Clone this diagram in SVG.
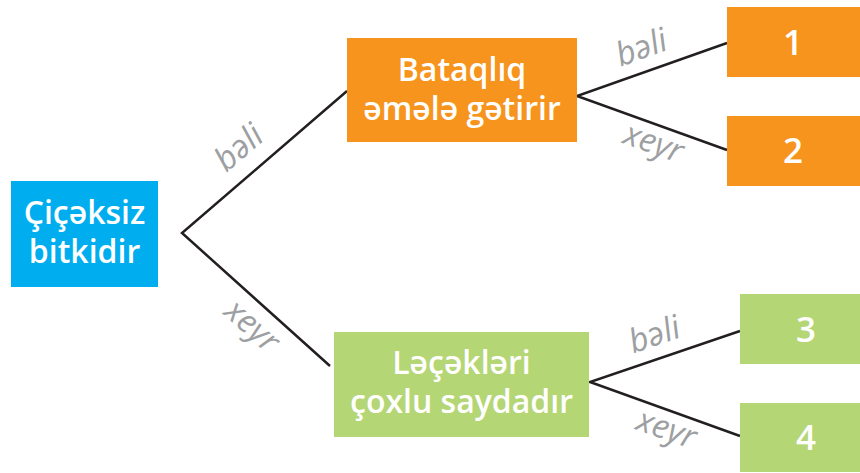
<svg xmlns="http://www.w3.org/2000/svg" width="860" height="473" viewBox="0 0 860 473">
<style>
.t{font-family:"Open Sans","Noto Sans",sans-serif;font-size:32px;font-weight:600;fill:#fff;text-anchor:middle}
.n{font-size:35px}
.l{font-family:"Open Sans","Noto Sans",sans-serif;font-size:33px;font-style:italic;fill:#9d9fa2;text-anchor:middle}
.e{stroke:#231f20;stroke-width:2.5;fill:none}
.o{fill:#f7941d}.g{fill:#b5d675}.b{fill:#00aeef}
</style>
<rect width="860" height="473" fill="#fff"/>
<g id="connectors">
<polyline class="e" points="347,91 182,233 330,366"/>
<polyline class="e" points="727,43 577,96 727,150"/>
<polyline class="e" points="740,331 590,382 740,436"/>
<text class="l" transform="translate(246,156) rotate(-40.7)">bəli</text>
<text class="l" transform="translate(245,334) rotate(42)">xeyr</text>
<text class="l" transform="translate(645,58) rotate(-19.5)">bəli</text>
<text class="l" transform="translate(650,153) rotate(19.8)">xeyr</text>
<text class="l" transform="translate(658,345) rotate(-18.8)">bəli</text>
<text class="l" transform="translate(663,439) rotate(19.5)">xeyr</text>
</g>
<g id="root"><rect class="b" x="11" y="181" width="147" height="106"/>
<text class="t" x="84.5" y="224">Çiçəksiz</text><text class="t" x="84.5" y="263">bitkidir</text></g>
<g id="n_bataqliq"><rect class="o" x="347" y="38" width="230" height="104"/>
<text class="t" x="462" y="81">Bataqlıq</text><text class="t" x="462" y="120">əmələ gətirir</text></g>
<g id="n_lecek"><rect class="g" x="334" y="332" width="255" height="105"/>
<text class="t" x="461.5" y="374">Ləçəkləri</text><text class="t" x="461.5" y="413">çoxlu saydadır</text></g>
<g id="n1"><rect class="o" x="727" y="7" width="133" height="70"/><text class="t n" x="793" y="55">1</text></g>
<g id="n2"><rect class="o" x="727" y="116" width="133" height="70"/><text class="t n" x="793" y="163">2</text></g>
<g id="n3"><rect class="g" x="740" y="294" width="120" height="70"/><text class="t n" x="806" y="342">3</text></g>
<g id="n4"><rect class="g" x="740" y="403" width="120" height="69"/><text class="t n" x="806" y="450">4</text></g>
</svg>
